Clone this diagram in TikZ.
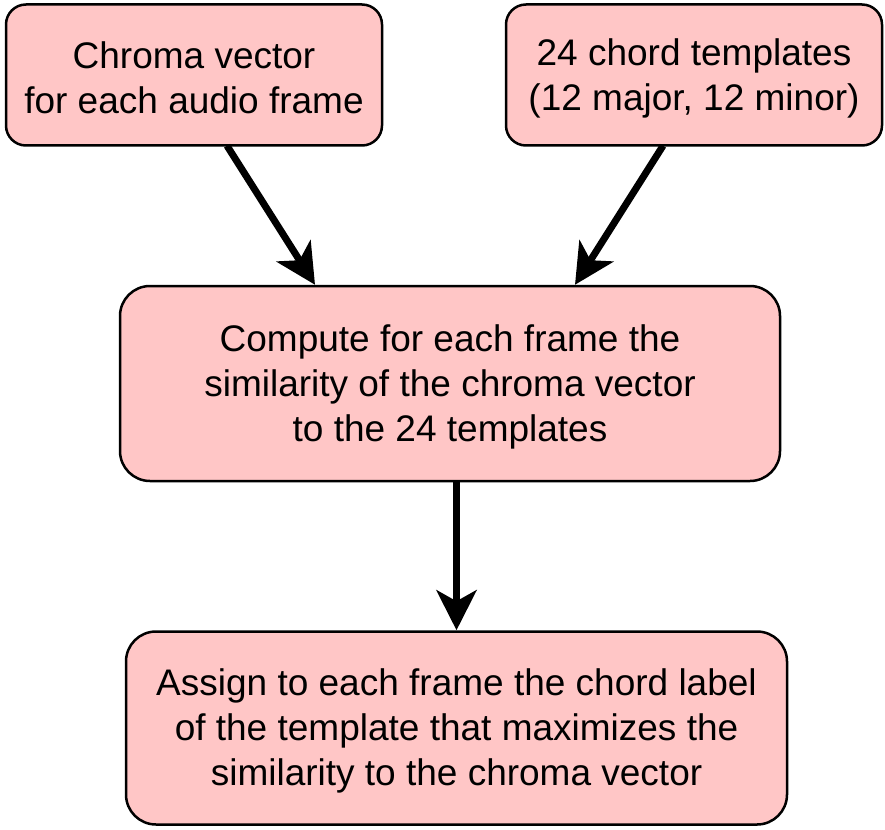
\documentclass[tikz,border=0pt]{standalone}
\usepackage{fontspec}
\setmainfont{Liberation Sans}
\usetikzlibrary{arrows.meta,calc}
\definecolor{boxpink}{HTML}{FFC6C6}
\begin{document}
\begin{tikzpicture}[x=1pt,y=-1pt,
  box/.style={draw=black, line width=2.5pt, fill=boxpink, inner sep=0pt},
  boxtext/.style={font=\fontsize{37}{45}\selectfont, align=center, inner sep=0pt, yshift=-3pt},
  flow/.style={line width=7pt, -{Stealth[length=40pt,width=40pt,inset=11pt]}}]
\useasboundingbox (0,0) rectangle (885,829);
\node[box, rounded corners=20pt, minimum width=376pt, minimum height=141pt,
  label={[boxtext]center:Chroma vector\\for each audio frame}] (b1) at (194,75) {};
\node[box, rounded corners=20pt, minimum width=376pt, minimum height=141pt,
  label={[boxtext]center:24 chord templates\\(12 major, 12 minor)}] (b2) at (694,75) {};
\node[box, rounded corners=30pt, minimum width=660pt, minimum height=195pt,
  label={[boxtext]center:Compute for each frame the\\similarity of the chroma vector\\to the 24 templates}] (b3) at (450,383.5) {};
\node[box, rounded corners=30pt, minimum width=661pt, minimum height=193pt,
  label={[boxtext]center:Assign to each frame the chord label\\of the template that maximizes the\\similarity to the chroma vector}] (b4) at (456.5,728) {};
\draw[flow] ($(b1.south)+(33,-1)$) -- ($(b3.north)+(-135,0)$);
\draw[flow] ($(b2.south)+(-31,-1)$) -- ($(b3.north)+(125,0)$);
\draw[flow] (b3.south -| b4.north) -- (b4.north);
\end{tikzpicture}
\end{document}
